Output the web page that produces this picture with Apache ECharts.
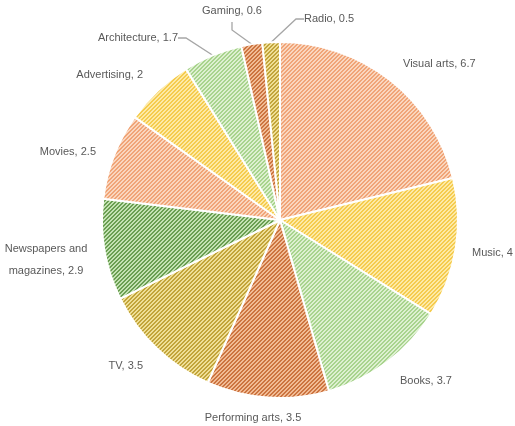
<!DOCTYPE html>
<html><head><meta charset="utf-8">
<script src="https://cdn.jsdelivr.net/npm/echarts@6/dist/echarts.min.js"></script>
<style>html,body{margin:0;padding:0;background:#fff}#c{width:515px;height:426px}</style>
</head><body><div id="c"></div>
<script>
const categories = ['Visual arts','Music','Books','Performing arts','TV','Newspapers and\nmagazines','Movies','Advertising','Architecture','Gaming','Radio'];
const values = [6.7,4,3.7,3.5,3.5,2.9,2.5,2,1.7,0.6,0.5];

// label anchor placement (x, y, align) for the text labels
const labelPlace = [
  [403,64,'left'],[472,253,'left'],[400,381,'left'],[253,418,'center'],[143,366,'right'],
  [46,260,'center'],[96,152,'right'],[143,75,'right'],[178,38,'right'],[232,11,'center'],[304,19,'left']
];
const showLine = [false,false,false,false,false,false,false,false,true,true,true];

const palettes = [
  ['#fad6be','#f0a477'], // light orange
  ['#fdeaa6','#f5cb4e'], // light gold
  ['#ddf0d0','#a8d38d'], // light green
  ['#f1bb95','#cc7440'], // dark orange
  ['#efdf96','#c2a43a'], // dark gold
  ['#c3e2b3','#6a9e52']  // dark green
];
function stripe(base, line){
  const c = document.createElement('canvas'); c.width = 8; c.height = 8;
  const g = c.getContext('2d');
  g.fillStyle = base; g.fillRect(0,0,8,8);
  g.fillStyle = line;
  for (let y=0;y<8;y++) for (let x=0;x<8;x++){
    const m = (x+y)%4; if (m===0||m===1) g.fillRect(x,y,1,1);
  }
  return c;
}
const patterns = palettes.map(p => stripe(p[0], p[1]));

const data = categories.map((n,i)=>({
  name:n, value:values[i],
  itemStyle:{color:{image:patterns[i%6], repeat:'repeat'}},
  labelLine:{show:showLine[i], length:12, length2:8, lineStyle:{color:'#a6a6a6',width:1.3}}
}));

const chart = echarts.init(document.getElementById('c'), null, {renderer:'canvas'});
chart.setOption({
  animation:false,
  series:[{
    type:'pie',
    center:[280,220], radius:178,
    startAngle:90, clockwise:true,
    avoidLabelOverlap:false,
    itemStyle:{borderColor:'#fff', borderWidth:2},
    label:{show:true, position:'outside', color:'#595959', fontFamily:'Liberation Sans', fontSize:11, lineHeight:22,
      formatter: p => p.name + ', ' + p.value},
    labelLine:{smooth:false},
    labelLayout: p => {
      const lp = labelPlace[p.dataIndex];
      return {x:lp[0], y:lp[1], align:lp[2], verticalAlign:'middle', hideOverlap:false, moveOverlap:null};
    },
    data:data
  }]
});
</script></body></html>
